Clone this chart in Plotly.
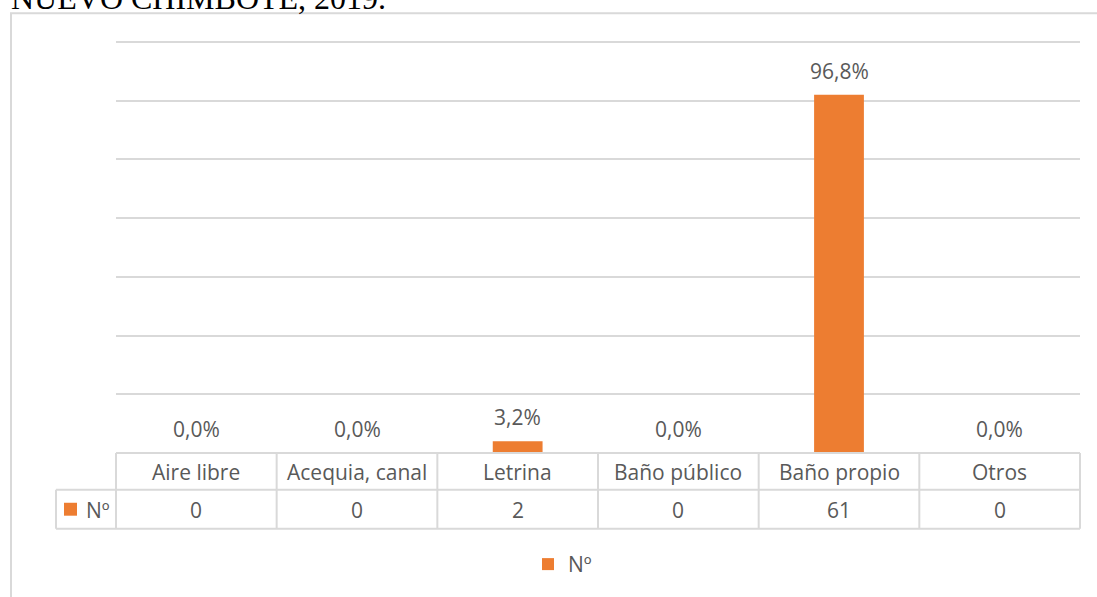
import plotly.graph_objects as go

# ---------------- data ----------------
categories = ["Aire libre", "Acequia, canal", "Letrina", "Baño público", "Baño propio", "Otros"]
counts = [0, 0, 2, 0, 61, 0]
percents = [0.0, 0.0, 3.2, 0.0, 96.8, 0.0]
series_name = "Nº"
title_text = "NUEVO CHIMBOTE, 2019."
y_max = 70
y_step = 10

# ---------------- layout geometry ----------------
W, H = 1097, 597
L, R, T, B = 116, 17, 39, 142
pw = W - L - R
ph = H - T - B
y_top = y_max * ph / (ph - 3)   # leaves room so the top gridline is drawn


def px2x(px):
    return (px - L) / pw


def py2y(py):
    return (H - B - py) / ph


ORANGE = "#ED7D31"
GRID = "#D9D9D9"
TXT = "#595959"
FONT = "Open Sans"
FS = 21

fig = go.Figure(
    go.Bar(
        x=categories,
        y=counts,
        name=series_name,
        marker=dict(color=ORANGE, line=dict(width=0)),
        width=0.31,
        showlegend=True,
        hoverinfo="skip",
    )
)

annotations = []
shapes = []

# data labels (percentages)
for c, v, p in zip(categories, counts, percents):
    annotations.append(dict(
        x=c, y=v, xref="x", yref="y", text=f"{p:.1f}".replace(".", ",") + "%",
        showarrow=False, yanchor="middle", yshift=24,
        font=dict(family=FONT, size=FS, color=TXT)))

# data table: category row and value row
n = len(categories)
for i, (c, v) in enumerate(zip(categories, counts)):
    annotations.append(dict(
        x=c, y=py2y(474), xref="x", yref="paper", text=c, showarrow=False,
        yanchor="middle", font=dict(family=FONT, size=FS, color=TXT)))
    annotations.append(dict(
        x=c, y=py2y(512), xref="x", yref="paper", text=str(v), showarrow=False,
        yanchor="middle", font=dict(family=FONT, size=FS, color=TXT)))

# table lines
left_cell = px2x(56)
row_top, row_mid, row_bot = py2y(455), py2y(492), py2y(531)
line = dict(color=GRID, width=2)
shapes.append(dict(type="line", xref="paper", yref="paper", x0=0, x1=1, y0=row_top, y1=row_top, line=line))
shapes.append(dict(type="line", xref="paper", yref="paper", x0=left_cell, x1=1, y0=row_mid, y1=row_mid, line=line))
shapes.append(dict(type="line", xref="paper", yref="paper", x0=left_cell, x1=1, y0=row_bot, y1=row_bot, line=line))
for i in range(n + 1):
    shapes.append(dict(type="line", xref="paper", yref="paper", x0=i / n, x1=i / n,
                       y0=row_top, y1=row_bot, line=line))
shapes.append(dict(type="line", xref="paper", yref="paper", x0=left_cell, x1=left_cell,
                   y0=row_mid, y1=row_bot, line=line))

# legend key inside the table
shapes.append(dict(type="rect", xref="paper", yref="paper", x0=px2x(64), x1=px2x(77),
                   y0=py2y(518), y1=py2y(505), fillcolor=ORANGE, line=dict(width=0)))
annotations.append(dict(x=px2x(84), y=py2y(512), xref="paper", yref="paper", text=series_name,
                        showarrow=False, xanchor="left", yanchor="middle",
                        font=dict(family=FONT, size=FS, color=TXT)))

# chart area border (left + top)
shapes.append(dict(type="line", xref="paper", yref="paper", x0=px2x(11), x1=px2x(11),
                   y0=py2y(13), y1=py2y(600), line=line))
shapes.append(dict(type="line", xref="paper", yref="paper", x0=px2x(10), x1=px2x(1100),
                   y0=py2y(13), y1=py2y(13), line=line))

# cropped title text from the document
annotations.append(dict(x=px2x(9), y=py2y(18), xref="paper", yref="paper", text=title_text,
                        showarrow=False, xanchor="left", yanchor="bottom",
                        font=dict(family="Liberation Serif", size=32, color="#000000")))

fig.update_layout(
    width=W, height=H, autosize=False,
    margin=dict(l=L, r=R, t=T, b=B, pad=0),
    paper_bgcolor="white", plot_bgcolor="white",
    font=dict(family=FONT, size=FS, color=TXT),
    xaxis=dict(range=[-0.5, n - 0.5], showticklabels=False, showgrid=False, zeroline=False,
               showline=False, ticks="", fixedrange=True),
    yaxis=dict(range=[0, y_top], tick0=0, dtick=y_step, showticklabels=False, showgrid=True,
               gridcolor=GRID, gridwidth=2, zeroline=False, showline=False, ticks="",
               fixedrange=True),
    showlegend=True,
    legend=dict(orientation="h", x=px2x(528), xanchor="left", y=py2y(567), yanchor="middle",
                font=dict(family=FONT, size=FS, color=TXT), itemwidth=30,
                bgcolor="rgba(0,0,0,0)"),
    annotations=annotations,
    shapes=shapes,
)

fig.write_html("out.html", config={"displayModeBar": False},
               post_script="document.body.style.margin='0px';")
